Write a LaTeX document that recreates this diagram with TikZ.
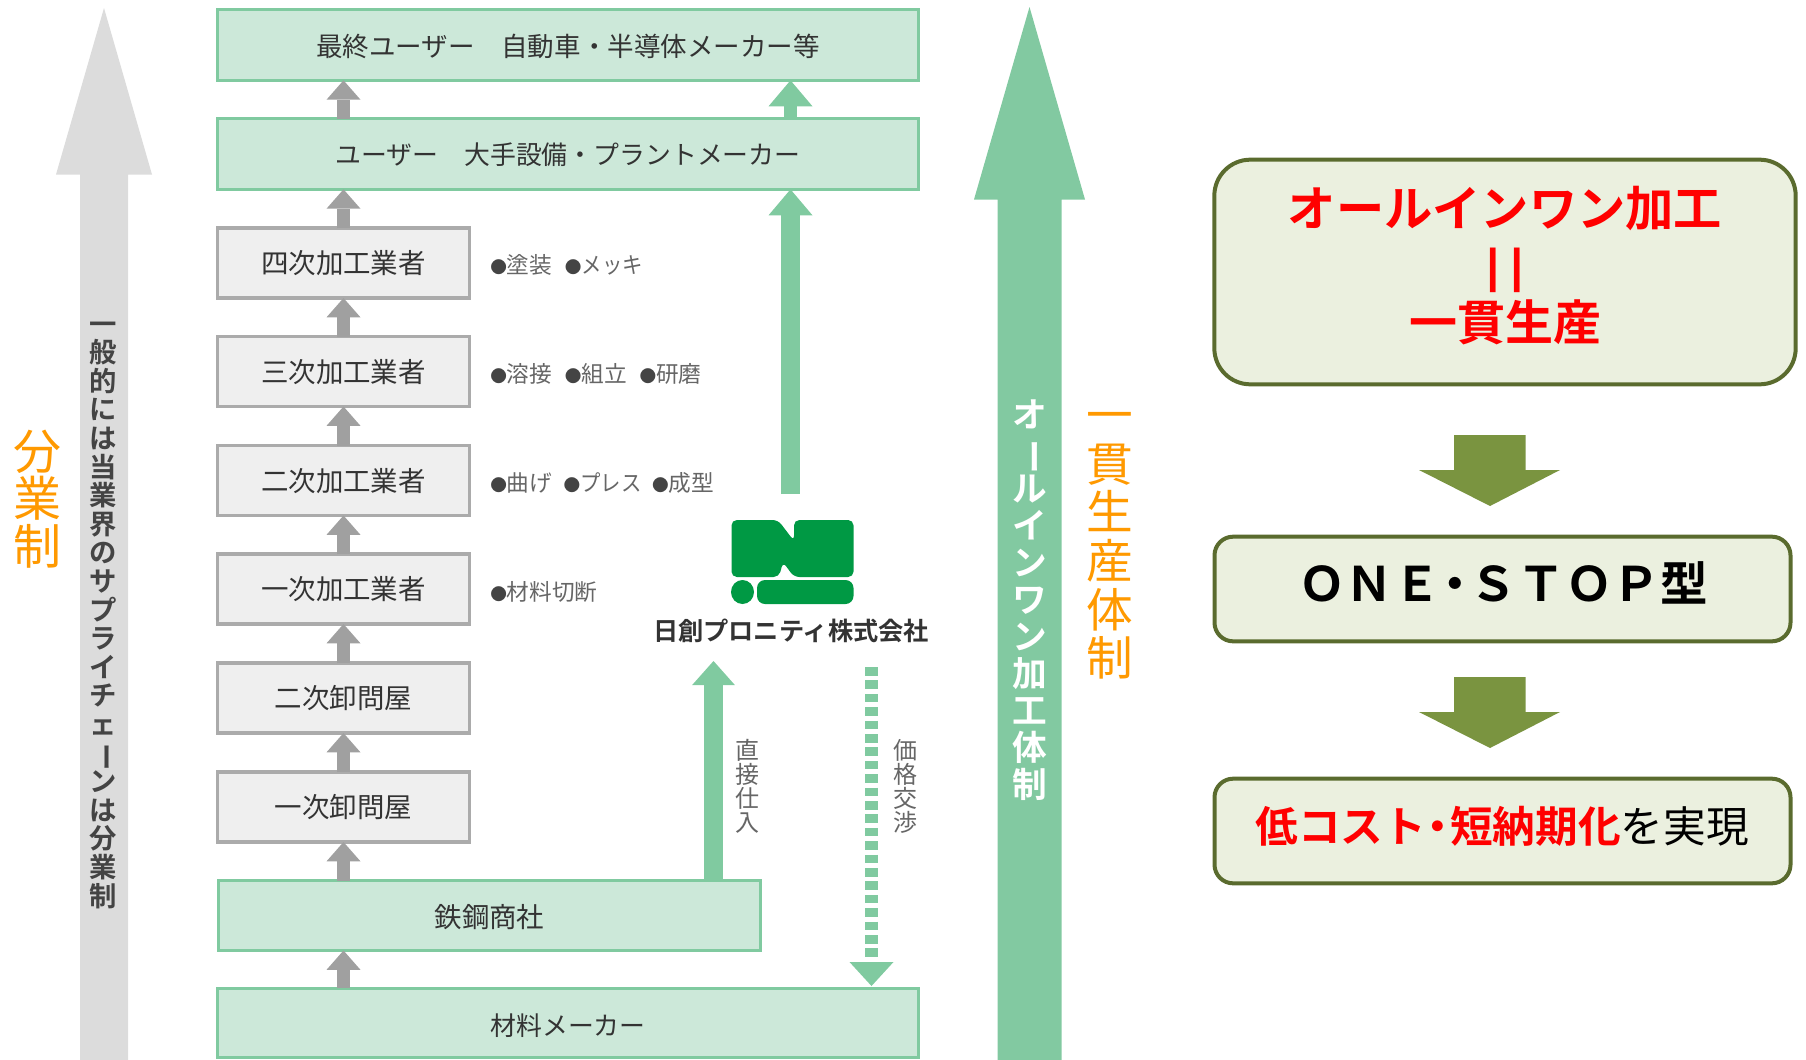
\documentclass[tikz,border=0pt]{standalone}
\usepackage{fontspec}
\usetikzlibrary{arrows.meta,calc}
\newfontfamily\jp{Noto Sans CJK JP}
\newfontfamily\jpb{Noto Sans CJK JP Bold}
\newcommand{\fs}[2]{\fontsize{#1}{#2}\selectfont\lineskiplimit=-20pt\relax}
\newcommand{\vbar}{\rotatebox[origin=c]{-90}{ー}}
\newcommand{\dotb}{{\fontsize{12.5pt}{15pt}\selectfont\color{dotgray}●}}
\definecolor{greenfill}{HTML}{CCE8D9}
\definecolor{greenline}{HTML}{80CAA0}
\definecolor{grayfill}{HTML}{EFEFEF}
\definecolor{grayline}{HTML}{ABABAB}
\definecolor{linkgray}{HTML}{A0A0A0}
\definecolor{biggray}{HTML}{DCDCDC}
\definecolor{biggreen}{HTML}{82C9A1}
\definecolor{orangetxt}{HTML}{FF9900}
\definecolor{logogreen}{HTML}{009944}
\definecolor{txt}{HTML}{333333}
\definecolor{subtxt}{HTML}{666666}
\definecolor{dotgray}{HTML}{444444}
\definecolor{olive}{HTML}{7A9440}
\definecolor{oliveline}{HTML}{5A6B2E}
\definecolor{olivefill}{HTML}{EBF0DF}
\tikzset{
  greenbox/.style={draw=greenline,fill=greenfill,line width=2.4pt,outer sep=0pt,inner sep=0pt,text=txt,text depth=0pt,text height=16pt,font=\jp\fs{19.9pt}{24pt}},
  graybox/.style={draw=grayline,fill=grayfill,line width=2.6pt,outer sep=0pt,inner sep=0pt,minimum width=189pt,minimum height=52.5pt,text=txt,text depth=0pt,text height=16.2pt,font=\jp\fs{20.6pt}{24pt}},
  roundbox/.style={draw=oliveline,fill=olivefill,line width=3pt,outer sep=0pt,inner sep=0pt,rounded corners=27pt},
  sidetxt/.style={anchor=west,inner sep=0pt,text=subtxt,font=\jp\fs{17pt}{20pt}},
  graylink/.style={draw=linkgray,line width=9.75pt,-{Triangle[length=14.5pt,width=25.5pt,line width=0pt,fill=linkgray]}},
  greenlink/.style={draw=greenline,-{Triangle[length=19.5pt,width=33pt,line width=0pt,fill=greenline]}},
  thinlink/.style={draw=greenline,line width=14pt,-{Triangle[length=18pt,width=32pt,line width=0pt,fill=greenline]}},
  vtext/.style={align=center,inner sep=0pt},
}
\begin{document}
\begin{tikzpicture}[x=0.75pt,y=-0.75pt]
\useasboundingbox (0,0) rectangle (1806,1060);
% big arrows
\path[fill=biggray] (104,8) -- (152,174.5) -- (128,174.5) -- (128,1060) -- (80,1060) -- (80,174.5) -- (56,174.5) -- cycle;
\path[fill=biggreen] (1029.5,7) -- (1085,199.5) -- (1061.5,199.5) -- (1061.5,1060) -- (997.5,1060) -- (997.5,199.5) -- (974,199.5) -- cycle;
% boxes
\node[greenbox,minimum width=525.75pt,minimum height=53pt,text height=17pt] (final) at (568,45) {最終ユーザー　自動車・半導体メーカー等};
\node[greenbox,minimum width=525.75pt,minimum height=53pt,font=\jp\fs{19.4pt}{24pt}] (user) at (568,154) {ユーザー　大手設備・プラントメーカー};
\node[graybox] (k4) at (343.5,263) {四次加工業者};
\node[graybox] (k3) at (343.5,371.5) {三次加工業者};
\node[graybox] (k2) at (343.5,480.5) {二次加工業者};
\node[graybox] (k1) at (343.5,589) {一次加工業者};
\node[graybox] (o2) at (343.5,698) {二次卸問屋};
\node[graybox] (o1) at (343.5,807) {一次卸問屋};
\node[greenbox,minimum width=407pt,minimum height=52.5pt,text height=17.4pt,font=\jp\fs{20.6pt}{24pt}] (steel) at (489.5,915.5) {鉄鋼商社};
\node[greenbox,minimum width=525.75pt,minimum height=52pt,text height=18pt,font=\jp\fs{19.4pt}{24pt}] (maker) at (568,1023) {材料メーカー};
% gray links
\draw[graylink] (k4.north |- user.north) -- (k4.north |- final.south);
\draw[graylink] (k4.north) -- (k4.north |- user.south);
\draw[graylink] (k3.north) -- (k4.south);
\draw[graylink] (k2.north) -- (k3.south);
\draw[graylink] (k1.north) -- (k2.south);
\draw[graylink] (o2.north) -- (k1.south);
\draw[graylink] (o1.north) -- (o2.south);
\draw[graylink] (o1.south |- steel.north) -- (o1.south);
\draw[graylink] (o1.south |- maker.north) -- (o1.south |- steel.south);
% green links
\coordinate (lx) at (790.5,494);
\draw[greenlink,line width=9.75pt] (lx |- user.north) -- (lx |- final.south);
\draw[greenlink,line width=14pt] (lx) -- (lx |- user.south);
\coordinate (dtop) at (713.5,661);
\draw[thinlink] (dtop |- steel.north) -- (dtop);
\coordinate (ntop) at (871.5,667);
\draw[draw=greenline,line width=9.75pt,dash pattern=on 6.5pt off 3.55pt] (ntop) -- (871.5,958);
\path[fill=greenline] (849.5,962) -- (893.5,962) -- (871.5,986) -- cycle;
% side labels
\node[sidetxt] (s4) at (490,265) {\dotb 塗装\hspace{9.5pt}\dotb \scalebox{0.9}[1]{メッキ}};
\node[sidetxt] (s3) at (490,374) {\dotb 溶接\hspace{9.5pt}\dotb 組立\hspace{9.5pt}\dotb 研磨};
\node[sidetxt] (s2) at (490,483) {\dotb 曲げ\hspace{8.5pt}\dotb \scalebox{0.9}[1]{プレス}\hspace{8pt}\dotb 成型};
\node[sidetxt] (s1) at (490,592) {\dotb 材料切断};
% logo
\fill[logogreen,rounded corners=4pt] (731.5,520) -- (778,520) -- (794,541) -- (794,520) -- (853.5,520) -- (853.5,577) -- (794,577) -- (783,562) -- (779,577) -- (731.5,577) -- cycle;
\fill[logogreen] (742.5,592) ellipse (11.5 and 12);
\fill[logogreen,rounded corners=6pt] (757,580) rectangle (853.5,604);
\node[inner sep=0pt,text=txt,font=\jpb\fs{18.9pt}{24pt}] (co) at (791,631) {日創プロニティ株式会社};
% vertical labels
\node[vtext,text=subtxt,font=\jp\fs{18pt}{18pt}] (d1) at (747,786) {直\\接\\仕\\入};
\node[vtext,text=subtxt,font=\jp\fs{18pt}{18pt}] (d2) at (905,786) {価\\格\\交\\渉};
\node[vtext,text=orangetxt,font=\jp\fs{36pt}{35.6pt}] (bun) at (37.5,499) {分\\業\\制};
\node[vtext,text=orangetxt,font=\jp\fs{35pt}{36.4pt}] (ikk) at (1109.5,546) {一\\貫\\生\\産\\体\\制};
\node[vtext,text=white,font=\jpb\fs{26pt}{27.7pt}] (all) at (1029.5,600) {オ\\\vbar\\ル\\イ\\ン\\ワ\\ン\\加\\工\\体\\制};
\node[vtext,text=dotgray,font=\jpb\fs{20.5pt}{21.45pt}] (gen) at (103,615) {一\\般\\的\\に\\は\\当\\業\\界\\の\\サ\\プ\\ラ\\イ\\チ\\ェ\\\vbar\\ン\\は\\分\\業\\制};
% right boxes
\node[roundbox,minimum width=436pt,minimum height=168.5pt] (r1) at (1505,272) {};
\node[inner sep=0pt,text=red,font=\jpb\fs{36.2pt}{40pt}] (r1a) at (1505,209) {オールインワン加工};
\node[inner sep=0pt,text=red,font=\jpb\fs{29.5pt}{40pt}] (r1b) at (1505.5,270) {\scalebox{1.5}[1]{|}\hspace{5pt}\scalebox{1.5}[1]{|}};
\node[inner sep=0pt,text=red,font=\jpb\fs{36pt}{40pt}] (r1c) at (1505,322) {一貫生産};
\node[roundbox,rounded corners=14pt,minimum width=432pt,minimum height=78.5pt] (r2) at (1502.5,589) {};
\node[inner sep=0pt,text=black,font=\jpb\fs{35.7pt}{40pt}] (r2a) at (1503,583) {ＯＮＥ\hspace{-7pt}・\hspace{-7pt}ＳＴＯＰ型};
\node[roundbox,rounded corners=14pt,minimum width=432pt,minimum height=78.5pt] (r3) at (1502.5,831) {};
\node[inner sep=0pt,font=\jp\fs{32pt}{36pt}] (r3a) at (1502,826) {{\jpb\color{red}低コスト\hspace{-7pt}・\hspace{-7pt}短納期化}を実現};
% olive arrows
\path[fill=olive] (1454,435) -- (1525.5,435) -- (1525.5,470) -- (1560,470) -- (1490,506) -- (1419,470) -- (1454,470) -- cycle;
\path[fill=olive] (1454,677) -- (1525.5,677) -- (1525.5,712) -- (1560,712) -- (1490,748) -- (1419,712) -- (1454,712) -- cycle;
\end{tikzpicture}
\end{document}
